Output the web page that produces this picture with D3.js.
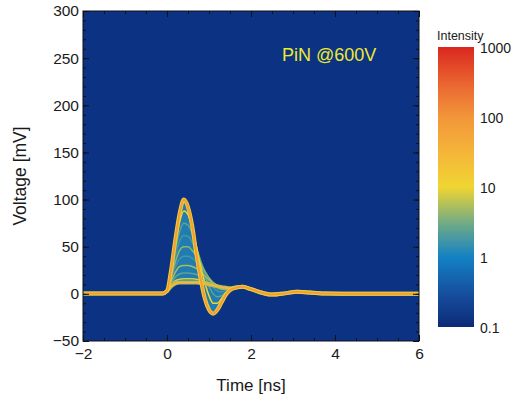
<!DOCTYPE html>
<html>
<head>
<meta charset="utf-8">
<script src="https://cdn.jsdelivr.net/npm/d3@7"></script>
<style>
  html, body { margin: 0; padding: 0; background: #ffffff; }
  svg { display: block; font-family: "Liberation Sans", Arial, sans-serif; }
</style>
</head>
<body>
<svg id="chart" width="514" height="401"></svg>
<script>
// Sample times [ns] shared by every recorded waveform
const times = [-2, -0.1, 0, 0.1, 0.2, 0.3, 0.4, 0.5, 0.6, 0.7, 0.8, 0.9, 1.0, 1.1, 1.2, 1.3,
               1.4, 1.5, 1.6, 1.8, 2.0, 2.2, 2.5, 2.8, 3.1, 3.4, 3.8, 4.5, 6.0];

// Representative waveforms [mV], from the largest pulse to the smallest
const pulse100 = [0.5, 0.5, 3, 26, 58, 85, 100, 92, 72, 42, 16, -5, -17, -21, -17, -9, -1, 4, 6, 7.5, 5, 2, -0.8, 0.5, 2.3, 1.5, 0.3, 0, 0];
const pulse88  = [0.5, 0.5, 3, 24, 52, 76, 88, 84, 70, 50, 30, 12, -2, -10, -10, -5, 1, 4.5, 6, 7.5, 5, 2, -0.8, 0.5, 2.3, 1.5, 0.3, 0, 0];
const pulse75  = [0.5, 0.5, 3, 22, 46, 66, 75, 73, 64, 50, 35, 20, 8, 0, -3, -2, 2, 5, 6, 7.5, 5, 2, -0.8, 0.5, 2.3, 1.5, 0.3, 0, 0];
const pulse62  = [0.5, 0.5, 3, 20, 40, 56, 62, 61, 55, 46, 35, 24, 14, 7, 3, 2, 4, 5, 6, 7.5, 5, 2, -0.8, 0.5, 2.3, 1.5, 0.3, 0, 0];
const pulse50  = [0.5, 0.5, 3, 18, 34, 46, 50, 50, 46, 40, 32, 24, 17, 11, 7, 5, 5, 5.5, 6, 7.5, 5, 2, -0.8, 0.5, 2.3, 1.5, 0.3, 0, 0];
const pulse40  = [0.5, 0.5, 3, 16, 29, 37, 40, 40, 38, 34, 28, 22, 17, 12, 9, 7, 6, 6, 6.5, 7.5, 5, 2, -0.8, 0.5, 2.3, 1.5, 0.3, 0, 0];
const pulse30  = [0.5, 0.5, 3, 13, 23, 29, 30, 30, 29, 27, 23, 19, 15, 12, 9, 8, 7, 6.5, 6.5, 7.5, 5, 2, -0.8, 0.5, 2.3, 1.5, 0.3, 0, 0];
const pulse22  = [0.5, 0.5, 3, 11, 18, 21, 22, 22, 21.5, 20.5, 18.5, 16, 13.5, 11, 9, 8, 7, 6.5, 6.5, 7.5, 5, 2, -0.8, 0.5, 2.3, 1.5, 0.3, 0, 0];
const pulse16  = [0.5, 0.5, 3, 9, 14, 15.5, 16, 16, 16, 15.5, 14.5, 13, 11.5, 10, 8.5, 7.5, 7, 6.5, 6.5, 7.5, 5, 2, -0.8, 0.5, 2.3, 1.5, 0.3, 0, 0];
const pulse12  = [0.5, 0.5, 3, 8, 11, 12, 12, 12, 12, 12, 11.5, 11, 10, 9, 8, 7, 6.5, 6, 6.5, 7.5, 5, 2, -0.8, 0.5, 2.3, 1.5, 0.3, 0, 0];

// How many recorded waveforms fall on each representative trace
const pulseCounts = [80, 10, 2.5, 1.8, 4, 1.8, 5, 2.5, 8, 30];
// Density of the sparse region between the outer traces
const fanCount = 1.2;

// Axis ticks
const xMajorTicks = [-2, 0, 2, 4, 6];
const xMinorTicks = d3.range(-2, 6.01, 0.5);
const yMajorTicks = [-50, 0, 50, 100, 150, 200, 250, 300];
const yMinorTicks = d3.range(-50, 300.1, 10);

// Intensity colour scale
const intensityStops  = [0.1, 0.3, 1, 3, 10, 30, 100, 300, 1000];
const intensityColors = ["#0c2a78", "#154f9e", "#1482c4", "#70aa86", "#f0d531",
                         "#f5b63a", "#f2963a", "#ea6530", "#d9271f"];
const barTicks = [0.1, 1, 10, 100, 1000];
const barTickLabels = ["0.1", "1", "10", "100", "1000"];

const label = "PiN @600V";

// ---------------------------------------------------------------------
const svg = d3.select("#chart");
const plot = { left: 83, top: 11, right: 419, bottom: 341 };
const bar = { left: 438, top: 47, right: 474, bottom: 327 };

const x = d3.scaleLinear().domain([-2, 6]).range([plot.left, plot.right]);
const y = d3.scaleLinear().domain([-50, 300]).range([plot.bottom, plot.top]);
const color = d3.scaleLog().domain(intensityStops).range(intensityColors)
  .interpolate(d3.interpolateRgb).clamp(true);

const fmt = v => (v < 0 ? "\u2212" + Math.abs(v) : String(v));

const defs = svg.append("defs");
defs.append("clipPath").attr("id", "plotClip").append("rect")
  .attr("x", plot.left).attr("y", plot.top)
  .attr("width", plot.right - plot.left).attr("height", plot.bottom - plot.top);
defs.append("filter").attr("id", "soft").attr("x", "-5%").attr("y", "-5%")
  .attr("width", "110%").attr("height", "110%")
  .append("feGaussianBlur").attr("stdDeviation", 0.7);

// Background of the plot = lowest intensity
svg.append("rect")
  .attr("x", plot.left).attr("y", plot.top)
  .attr("width", plot.right - plot.left).attr("height", plot.bottom - plot.top)
  .attr("fill", "#0c3383");

const pulses = [pulse100, pulse88, pulse75, pulse62, pulse50, pulse40, pulse30, pulse22, pulse16, pulse12]
  .map((vals, i) => ({ vals, count: pulseCounts[i] }));

const dens = svg.append("g").attr("clip-path", "url(#plotClip)")
  .append("g").attr("filter", "url(#soft)");

// Sparse fan between the outermost waveforms
const envelope = times.map((t, i) => ({
  t,
  lo: d3.min(pulses, p => p.vals[i]),
  hi: d3.max(pulses, p => p.vals[i])
}));
dens.append("path")
  .datum(envelope)
  .attr("fill", color(fanCount))
  .attr("fill-opacity", 0.85)
  .attr("d", d3.area().curve(d3.curveMonotoneX)
    .x(d => x(d.t)).y0(d => y(d.lo)).y1(d => y(d.hi)));

const line = d3.line().curve(d3.curveMonotoneX)
  .x((d, i) => x(times[i])).y(d => y(d));

const ordered = pulses.slice().sort((a, b) => a.count - b.count);
ordered.forEach(p => {
  if (p.count >= 20) {
    dens.append("path").datum(p.vals)
      .attr("fill", "none").attr("stroke", color(p.count / 6))
      .attr("stroke-width", 4).attr("stroke-linejoin", "round")
      .attr("d", line);
  }
  dens.append("path").datum(p.vals)
    .attr("fill", "none").attr("stroke", color(p.count))
    .attr("stroke-width", p.count >= 20 ? 2 : 1.5).attr("stroke-linejoin", "round")
    .attr("d", line);
});

// Axes: ticks point inward on all four sides
const axisFont = g => g.attr("font-family", null).attr("font-size", null);
function styleAxis(g) {
  g.select(".domain").remove();
  g.selectAll("line").attr("stroke", "#111");
  g.selectAll("text").attr("fill", "#1a1a1a").style("font-size", "15.5px");
}

svg.append("g").attr("transform", `translate(0,${plot.bottom})`)
  .call(d3.axisBottom(x).tickValues(xMinorTicks).tickSize(-3).tickFormat(""))
  .call(styleAxis);
svg.append("g").attr("transform", `translate(0,${plot.bottom})`)
  .call(d3.axisBottom(x).tickValues(xMajorTicks).tickSize(-6).tickPadding(7).tickFormat(fmt))
  .call(axisFont).call(styleAxis);
svg.append("g").attr("transform", `translate(0,${plot.top})`)
  .call(d3.axisTop(x).tickValues(xMinorTicks).tickSize(-3).tickFormat(""))
  .call(styleAxis);
svg.append("g").attr("transform", `translate(0,${plot.top})`)
  .call(d3.axisTop(x).tickValues(xMajorTicks).tickSize(-6).tickFormat(""))
  .call(styleAxis);

svg.append("g").attr("transform", `translate(${plot.left},0)`)
  .call(d3.axisLeft(y).tickValues(yMinorTicks).tickSize(-3).tickFormat(""))
  .call(styleAxis);
svg.append("g").attr("transform", `translate(${plot.left},0)`)
  .call(d3.axisLeft(y).tickValues(yMajorTicks).tickSize(-6).tickPadding(4).tickFormat(fmt))
  .call(axisFont).call(styleAxis);
svg.append("g").attr("transform", `translate(${plot.right},0)`)
  .call(d3.axisRight(y).tickValues(yMinorTicks).tickSize(-3).tickFormat(""))
  .call(styleAxis);
svg.append("g").attr("transform", `translate(${plot.right},0)`)
  .call(d3.axisRight(y).tickValues(yMajorTicks).tickSize(-6).tickFormat(""))
  .call(styleAxis);

// Frame
svg.append("rect")
  .attr("x", plot.left).attr("y", plot.top)
  .attr("width", plot.right - plot.left).attr("height", plot.bottom - plot.top)
  .attr("fill", "none").attr("stroke", "#111").attr("stroke-width", 1);

// Axis titles
svg.append("text")
  .attr("x", (plot.left + plot.right) / 2).attr("y", 391)
  .attr("text-anchor", "middle").attr("font-size", 17).attr("fill", "#1a1a1a")
  .text("Time [ns]");
svg.append("text")
  .attr("transform", `translate(26,${(plot.top + plot.bottom) / 2}) rotate(-90)`)
  .attr("text-anchor", "middle").attr("font-size", 17.5).attr("fill", "#1a1a1a")
  .text("Voltage [mV]");

// In-plot label
svg.append("text")
  .attr("x", 282).attr("y", 61)
  .attr("font-size", 18).attr("fill", "#ecea2f")
  .text(label);

// Colour bar
const barScale = d3.scaleLog().domain([0.1, 1000]).range([bar.bottom, bar.top]);
const grad = defs.append("linearGradient").attr("id", "intensityGrad")
  .attr("x1", 0).attr("y1", 1).attr("x2", 0).attr("y2", 0);
d3.range(0, 1.0001, 0.025).forEach(f => {
  const v = Math.pow(10, -1 + 4 * f);
  grad.append("stop").attr("offset", f).attr("stop-color", color(v));
});
svg.append("rect")
  .attr("x", bar.left).attr("y", bar.top)
  .attr("width", bar.right - bar.left).attr("height", bar.bottom - bar.top)
  .attr("fill", "url(#intensityGrad)");

svg.append("g").selectAll("text").data(barTicks).join("text")
  .attr("x", bar.right + 6).attr("y", d => barScale(d) + 6)
  .attr("font-size", 14).attr("fill", "#1a1a1a")
  .text((d, i) => barTickLabels[i]);

svg.append("text")
  .attr("x", bar.left - 1).attr("y", 40)
  .attr("font-size", 12.5).attr("fill", "#1a1a1a")
  .text("Intensity");
</script>
</body>
</html>
